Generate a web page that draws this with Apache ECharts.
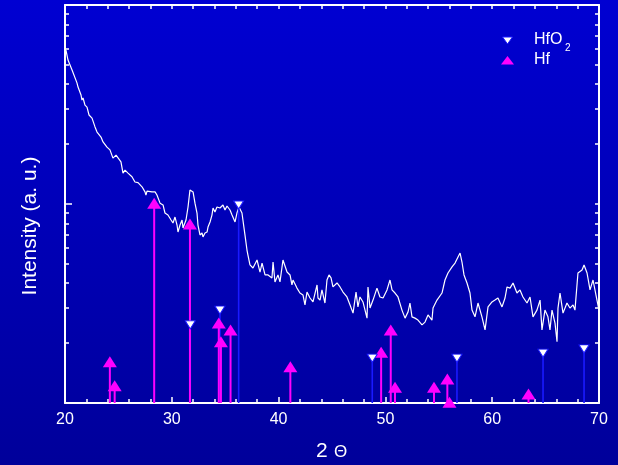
<!DOCTYPE html>
<html><head><meta charset="utf-8">
<script src="https://cdn.jsdelivr.net/npm/echarts@6/dist/echarts.min.js"></script>
<style>html,body{margin:0;padding:0;background:#0000b8}#c{width:618px;height:465px}</style>
</head><body><div id="c"></div>
<script>
// XRD scan (2θ, intensity a.u.)
const twoTheta = [20.09,20.28,20.66,20.75,21.12,21.22,21.50,21.59,21.69,21.87,22.06,22.25,22.53,22.81,23.00,23.18,23.37,23.56,23.93,24.21,24.49,24.78,24.96,25.24,25.43,25.62,25.90,26.27,26.55,26.84,27.21,27.49,27.58,27.68,28.15,28.43,28.61,28.90,29.18,29.36,29.64,29.93,30.11,30.30,30.49,30.58,30.77,30.96,31.05,31.33,31.52,31.70,31.80,31.99,32.17,32.36,32.45,32.64,32.83,32.92,33.11,33.30,33.39,33.58,33.76,33.86,34.04,34.23,34.51,34.79,34.98,35.17,35.45,35.64,35.92,36.10,36.29,36.57,36.85,37.04,37.13,37.32,37.60,37.98,38.26,38.45,38.73,39.01,39.38,39.48,39.66,39.94,40.13,40.41,40.79,41.07,41.25,41.35,41.72,42.00,42.28,42.47,42.66,42.94,43.22,43.60,43.69,43.88,44.06,44.34,44.53,44.72,44.91,45.09,45.47,45.75,46.03,46.40,46.69,46.97,47.25,47.43,47.62,47.90,48.28,48.37,48.56,48.84,49.21,49.49,49.78,50.15,50.43,50.62,50.90,51.18,51.55,51.84,52.12,52.30,52.49,52.77,53.05,53.43,53.71,53.99,54.36,54.46,54.83,54.93,55.30,55.58,55.86,56.24,56.52,56.80,56.99,57.17,57.36,57.64,57.92,58.11,58.39,58.67,59.04,59.33,59.61,59.98,60.26,60.54,60.92,61.20,61.39,61.67,61.95,62.32,62.60,62.88,63.26,63.54,63.82,64.19,64.48,64.66,64.94,65.22,65.41,65.60,65.88,66.07,66.16,66.35,66.63,67.00,67.28,67.57,67.75,68.03,68.41,68.60,68.88,69.16,69.44,69.81,70.00];
const intensity = [594,529,471,461,406,387,353,333,341,314,307,280,270,244,230,235,217,205,193,187,170,176,176,163,143,148,143,137,129,128,122,115,111,116,115,115,111,101,98.9,90.1,88.0,83.1,80.3,86.0,78.4,72.3,78.4,83.1,75.8,83.1,96.6,117.6,119,115,101,90.1,78.4,69.9,71.5,68.3,71.5,72.3,76.6,81.2,88.0,95.5,91.1,96.6,95.5,98.9,93.3,97.7,93.3,88.0,81.2,90.1,96.6,90.1,69.9,58.7,55.4,49.4,47.7,52.3,45.5,50.5,44.0,44.0,42.5,51.1,40.6,44.0,40.6,52.3,45.5,44.0,39.2,41.5,37.8,35.7,34.9,31.1,36.1,33.7,32.2,39.2,33.7,32.9,37.0,31.8,41.5,44.0,42.5,38.3,40.1,38.3,36.1,34.1,31.1,28.3,36.1,30.4,34.1,32.2,26.7,38.3,30.0,32.9,37.8,34.1,33.7,37.0,41.5,37.0,35.7,34.1,29.3,26.7,28.7,31.8,27.1,26.7,26.1,24.7,25.5,27.7,26.1,30.0,32.9,32.2,35.7,41.5,45.0,48.3,50.5,54.2,56.7,51.1,44.0,40.1,35.7,29.3,27.1,31.8,27.1,23.3,30.4,32.2,32.9,33.7,30.4,33.7,38.3,37.8,40.1,35.7,37.0,34.1,31.8,34.1,27.1,29.3,32.9,23.3,29.3,27.1,23.3,29.3,25.2,20.3,30.0,35.7,28.3,31.8,30.0,31.1,29.3,45.0,46.6,49.4,45.0,37.0,41.5,32.9,29.3];

// reference stick patterns
const hfPos = [24.2,24.65,28.35,31.7,34.4,34.6,35.5,41.1,49.6,50.5,50.9,54.55,55.8,56.0,63.4];
const hfInt = [16.1,12.2,101,79.3,25.2,20.3,23.3,15.2,18.0,23.3,12.0,12.0,13.2,10.1,11.1];
const hfo2Pos = [31.73,34.51,36.26,48.77,56.7,64.76,68.6];
const hfo2Int = [24.7,29.3,98.9,16.8,16.8,17.8,18.7];

// axis ranges / ticks
const xMin = 20, xMax = 70, xStep = 10;
const yMin = 10, yMax = 1000;
const yMinorTicks = [20,30,40,50,60,70,80,90,200,300,400,500,600,700,800,900];

const W = '#ffffff';
const FONT = 'Liberation Sans, Arial, sans-serif';
const logMin = Math.log10(yMin), logMax = Math.log10(yMax);
const minorLog = yMinorTicks.map(v => Math.log10(v));

function stickSeries(name, pos, vals, color, width) {
  return {
    type: 'custom', name: name, z: 3, silent: true,
    xAxisIndex: 0, yAxisIndex: 0,
    data: pos.map((p, i) => [p, vals[i]]),
    encode: {x: 0, y: 1},
    renderItem: function (params, api) {
      const x = api.value(0), y = api.value(1);
      const p0 = api.coord([x, yMin]);
      const p1 = api.coord([x, y]);
      return {type: 'line', shape: {x1: p0[0], y1: p0[1], x2: p1[0], y2: p1[1]},
              style: {stroke: color, lineWidth: width}};
    }
  };
}

function tickAxis(position, customVals, len, showLine) {
  const ax = {
    type: 'value', min: logMin, max: logMax, position: position, offset: 0,
    axisLine: {show: !!showLine, lineStyle: {color: W, width: 2}},
    axisLabel: {show: false}, splitLine: {show: false},
    axisTick: {show: true, inside: true, length: len, lineStyle: {color: W, width: 1.5}}
  };
  if (customVals) ax.axisTick.customValues = customVals; else ax.interval = 1;
  return ax;
}

const chart = echarts.init(document.getElementById('c'), null, {renderer: 'canvas'});
chart.setOption({
  animation: false,
  backgroundColor: {type: 'linear', x: 0, y: 0, x2: 0, y2: 1,
    colorStops: [{offset: 0, color: '#0000d2'}, {offset: 1, color: '#00009a'}]},
  grid: {left: 65, right: 19, top: 5, bottom: 62, containLabel: false},
  xAxis: [{
    type: 'value', min: xMin, max: xMax, interval: xStep, position: 'bottom',
    axisLine: {lineStyle: {color: W, width: 2}},
    axisTick: {inside: true, length: 6, lineStyle: {color: W, width: 1.5}},
    minorTick: {show: true, splitNumber: 5, length: 4, lineStyle: {color: W, width: 1.5}},
    axisLabel: {color: W, fontSize: 16, fontFamily: FONT, margin: 9},
    splitLine: {show: false}, minorSplitLine: {show: false}
  }, {
    type: 'value', min: xMin, max: xMax, interval: xStep, position: 'top',
    axisLine: {lineStyle: {color: W, width: 2}},
    axisTick: {inside: true, length: 4, lineStyle: {color: W, width: 1.5}},
    minorTick: {show: true, splitNumber: 5, length: 4, lineStyle: {color: W, width: 1.5}},
    axisLabel: {show: false}, splitLine: {show: false}, minorSplitLine: {show: false}
  }],
  yAxis: [{
    type: 'log', min: yMin, max: yMax, logBase: 10, position: 'left',
    axisLine: {show: false}, axisTick: {show: false}, axisLabel: {show: false},
    splitLine: {show: false}
  },
    tickAxis('left', null, 7, true),
    tickAxis('left', minorLog, 4, false),
    tickAxis('right', null, 4, true),
    tickAxis('right', minorLog, 4, false)
  ],
  series: [
    {type: 'line', name: 'scan', z: 2, xAxisIndex: 0, yAxisIndex: 0,
     data: twoTheta.map((t, i) => [t, intensity[i]]),
     showSymbol: false, symbol: 'none', lineStyle: {color: W, width: 1.2}},
    stickSeries('HfO2 sticks', hfo2Pos, hfo2Int, '#1a1aff', 1.6),
    stickSeries('Hf sticks', hfPos, hfInt, '#ff00ff', 2),
    {type: 'scatter', name: 'HfO2', z: 5, xAxisIndex: 0, yAxisIndex: 0,
     data: hfo2Pos.map((p, i) => [p, hfo2Int[i]]),
     symbol: 'triangle', symbolRotate: 180, symbolSize: [10, 8],
     itemStyle: {color: '#ffffff', borderColor: '#1a1aff', borderWidth: 1, opacity: 1}},
    {type: 'scatter', name: 'Hf', z: 4, xAxisIndex: 0, yAxisIndex: 0,
     data: hfPos.map((p, i) => [p, hfInt[i]]),
     symbol: 'triangle', symbolSize: [14, 11],
     itemStyle: {color: '#ff00ff', opacity: 1}}
  ],
  graphic: [
    {type: 'text', x: 30, y: 226, rotation: Math.PI / 2,
     style: {text: 'Intensity (a. u.)', fill: W, font: '21px ' + FONT, align: 'center', verticalAlign: 'middle'}},
    {type: 'text', x: 316, y: 451,
     style: {text: '2', fill: W, font: '21px ' + FONT, align: 'left', verticalAlign: 'middle'}},
    {type: 'text', x: 334, y: 452,
     style: {text: 'Θ', fill: W, font: '17px ' + FONT, align: 'left', verticalAlign: 'middle'}},
    {type: 'polygon', shape: {points: [[502.5, 37], [512.5, 37], [507.5, 44]]},
     style: {fill: W, stroke: '#1a1aff', lineWidth: 1}},
    {type: 'text', x: 534, y: 40,
     style: {text: 'HfO', fill: W, font: '16px ' + FONT, align: 'left', verticalAlign: 'middle'}},
    {type: 'text', x: 565, y: 48,
     style: {text: '2', fill: W, font: '10px ' + FONT, align: 'left', verticalAlign: 'middle'}},
    {type: 'polygon', shape: {points: [[501, 64.5], [514, 64.5], [507.5, 56]]},
     style: {fill: '#ff00ff'}},
    {type: 'text', x: 534, y: 60,
     style: {text: 'Hf', fill: W, font: '16px ' + FONT, align: 'left', verticalAlign: 'middle'}}
  ]
});
</script></body></html>
